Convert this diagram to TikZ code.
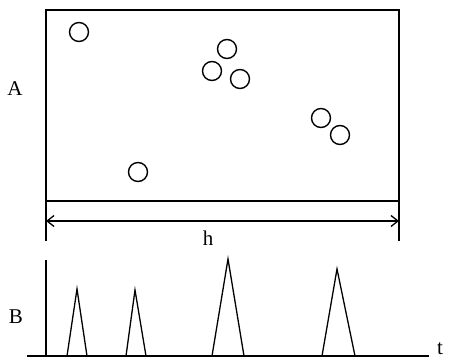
\documentclass[tikz,border=0pt]{standalone}
\usepackage{fontspec}
\setmainfont{Liberation Serif}
\usetikzlibrary{arrows.meta}
\begin{document}
\begin{tikzpicture}[x=1pt,y=-1pt,line width=1.3pt,
  particle/.style={circle,draw,minimum size=19pt,inner sep=0pt,line width=1.4pt},
  lbl/.style={font=\fontsize{21}{21}\selectfont,inner sep=0pt},
  peak/.style={line width=1.3pt,line join=miter}]
\useasboundingbox (0,0) rectangle (449,361);
% box A
\draw (46,10) rectangle (399,201);
\node[lbl] (A) at (15,89) {A};
\node[particle] (p1) at (79,32) {};
\node[particle] (p2) at (227,49) {};
\node[particle] (p3) at (212,71) {};
\node[particle] (p4) at (240,79) {};
\node[particle] (p5) at (321,118) {};
\node[particle] (p6) at (340,135) {};
\node[particle] (p7) at (138,172) {};
% dimension h
\coordinate (e1t) at (46,201);
\coordinate (e1b) at (46,241);
\coordinate (e2t) at (399,201);
\coordinate (e2b) at (399,241);
\draw (e1t) -- (e1b);
\draw (e2t) -- (e2b);
\coordinate (hl) at (46,221);
\coordinate (hr) at (399,221);
\draw[{Straight Barb[length=7pt,width=11pt]}-{Straight Barb[length=7pt,width=11pt]}] (hl) -- (hr);
\node[lbl] (h) at (208,238) {h};
% plot B
\node[lbl] (B) at (16,317) {B};
\coordinate (yt) at (46,260);
\coordinate (yb) at (46,356);
\coordinate (xl) at (27,356);
\coordinate (xr) at (429,356);
\draw (yt) -- (yb);
\draw (xl) -- (xr);
\node[lbl,anchor=south] (t) at (440,355) {t};
\draw[peak] (67,356) -- (77,289) -- (87,356);
\draw[peak] (126,356) -- (135,290) -- (146,356);
\draw[peak] (212,356) -- (228,259) -- (244,356);
\draw[peak] (322,356) -- (337,269) -- (355,356);
\end{tikzpicture}
\end{document}
